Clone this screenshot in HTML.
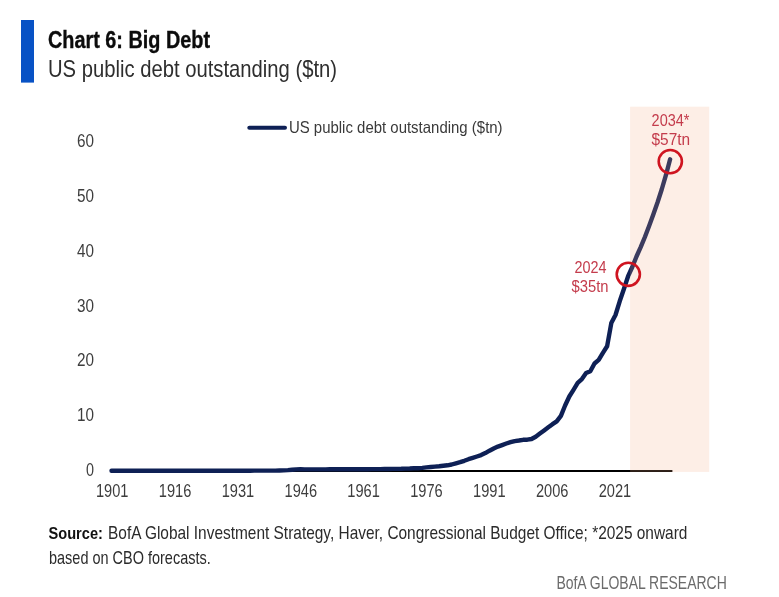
<!DOCTYPE html>
<html lang="en">
<head>
<meta charset="utf-8">
<title>Chart 6: Big Debt</title>
<style>
html,body{margin:0;padding:0;background:#fff;}
body{width:779px;height:597px;overflow:hidden;font-family:"Liberation Sans",sans-serif;}
svg{display:block;}
text{font-family:"Liberation Sans",sans-serif;}
</style>
</head>
<body>
<svg width="779" height="597" viewBox="0 0 779 597">
<rect x="0" y="0" width="779" height="597" fill="#ffffff"/>
<rect x="21" y="20" width="13" height="62.6" fill="#0852c5"/>
<text x="48" y="48" font-size="23.3" font-weight="bold" fill="#0c0c0c" stroke="#0c0c0c" stroke-width="0.35" textLength="162" lengthAdjust="spacingAndGlyphs">Chart 6: Big Debt</text>
<text x="48" y="76.9" font-size="24" fill="#2e2e2e" textLength="289" lengthAdjust="spacingAndGlyphs">US public debt outstanding ($tn)</text>

<g font-size="17.5" fill="#3d3d3d">
<text x="94" y="476.0" text-anchor="end" textLength="8" lengthAdjust="spacingAndGlyphs">0</text><text x="94" y="421.2" text-anchor="end" textLength="17" lengthAdjust="spacingAndGlyphs">10</text><text x="94" y="366.4" text-anchor="end" textLength="17" lengthAdjust="spacingAndGlyphs">20</text><text x="94" y="311.6" text-anchor="end" textLength="17" lengthAdjust="spacingAndGlyphs">30</text><text x="94" y="256.8" text-anchor="end" textLength="17" lengthAdjust="spacingAndGlyphs">40</text><text x="94" y="202.0" text-anchor="end" textLength="17" lengthAdjust="spacingAndGlyphs">50</text><text x="94" y="147.2" text-anchor="end" textLength="17" lengthAdjust="spacingAndGlyphs">60</text>
<text x="112.2" y="497" text-anchor="middle" textLength="32.5" lengthAdjust="spacingAndGlyphs">1901</text><text x="175.1" y="497" text-anchor="middle" textLength="32.5" lengthAdjust="spacingAndGlyphs">1916</text><text x="237.9" y="497" text-anchor="middle" textLength="32.5" lengthAdjust="spacingAndGlyphs">1931</text><text x="300.8" y="497" text-anchor="middle" textLength="32.5" lengthAdjust="spacingAndGlyphs">1946</text><text x="363.6" y="497" text-anchor="middle" textLength="32.5" lengthAdjust="spacingAndGlyphs">1961</text><text x="426.5" y="497" text-anchor="middle" textLength="32.5" lengthAdjust="spacingAndGlyphs">1976</text><text x="489.3" y="497" text-anchor="middle" textLength="32.5" lengthAdjust="spacingAndGlyphs">1991</text><text x="552.2" y="497" text-anchor="middle" textLength="32.5" lengthAdjust="spacingAndGlyphs">2006</text><text x="615.0" y="497" text-anchor="middle" textLength="32.5" lengthAdjust="spacingAndGlyphs">2021</text>
</g>

<line x1="110" y1="470.9" x2="672.4" y2="470.9" stroke="#000000" stroke-width="2"/>
<path d="M111.5,470.8 L115.7,470.8 L119.9,470.8 L124.1,470.8 L128.3,470.8 L132.5,470.8 L136.7,470.8 L140.9,470.8 L145.1,470.8 L149.3,470.8 L153.5,470.8 L157.7,470.8 L161.9,470.8 L166.1,470.8 L170.3,470.8 L174.5,470.8 L178.7,470.8 L182.9,470.7 L187.1,470.6 L191.3,470.7 L195.5,470.7 L199.7,470.7 L203.9,470.7 L208.1,470.7 L212.3,470.7 L216.5,470.7 L220.7,470.7 L224.9,470.7 L229.1,470.7 L233.3,470.7 L237.5,470.7 L241.7,470.7 L245.9,470.7 L250.1,470.7 L254.3,470.6 L258.5,470.6 L262.7,470.6 L266.9,470.6 L271.1,470.6 L275.3,470.6 L279.5,470.5 L283.7,470.4 L287.9,470.1 L292.1,469.7 L296.3,469.4 L300.5,469.3 L304.7,469.4 L308.9,469.4 L313.1,469.4 L317.3,469.4 L321.5,469.4 L325.7,469.4 L329.9,469.3 L334.1,469.3 L338.3,469.3 L342.5,469.3 L346.7,469.3 L350.9,469.3 L355.1,469.2 L359.3,469.2 L363.5,469.2 L367.7,469.2 L371.9,469.1 L376.1,469.1 L380.3,469.1 L384.5,469.0 L388.7,469.0 L392.9,468.9 L397.1,468.9 L401.3,468.8 L405.5,468.6 L409.7,468.5 L413.9,468.3 L418.1,468.2 L422.3,467.9 L426.5,467.4 L430.7,467.0 L434.9,466.6 L439.1,466.3 L443.3,465.8 L447.5,465.3 L451.7,464.5 L455.9,463.3 L460.1,462.2 L464.3,460.8 L468.5,459.2 L472.7,457.9 L476.9,456.5 L481.1,455.1 L485.3,453.1 L489.5,450.7 L493.7,448.5 L497.9,446.6 L502.1,445.1 L506.3,443.5 L510.5,442.2 L514.7,441.1 L518.9,440.5 L523.1,439.8 L527.3,439.7 L531.5,439.0 L535.7,436.7 L539.9,433.6 L544.1,430.4 L548.3,427.3 L552.5,424.2 L556.7,421.4 L560.9,415.9 L565.1,405.5 L569.3,396.5 L573.5,389.8 L577.7,382.8 L581.9,379.1 L586.1,373.1 L590.3,371.3 L594.5,363.5 L598.7,359.9 L602.9,352.9 L607.1,346.3 L611.3,323.1 L615.5,315.0 L619.7,301.3 L623.9,289.0 L628.1,276.2 L632.3,267.0 L636.5,256.5 L640.7,247.2 L644.9,237.0 L649.1,226.0 L653.3,214.5 L657.5,202.5 L661.7,189.5 L665.9,175.2 L670.1,159.3" fill="none" stroke="#0e2055" stroke-width="4.4" stroke-linecap="round" stroke-linejoin="round"/>
<rect x="630.1" y="106.7" width="79.1" height="365.2" fill="rgb(243,170,130)" fill-opacity="0.2"/>

<line x1="249.3" y1="127.7" x2="285" y2="127.7" stroke="#0e2055" stroke-width="4" stroke-linecap="round"/>
<text x="288.9" y="133.1" font-size="16.5" fill="#3a3a3a" textLength="213.7" lengthAdjust="spacingAndGlyphs">US public debt outstanding ($tn)</text>

<circle cx="670.3" cy="161.6" r="11.6" fill="none" stroke="#cf1420" stroke-width="2.6"/>
<circle cx="628.3" cy="274.3" r="11.6" fill="none" stroke="#cf1420" stroke-width="2.6"/>
<g font-size="16.2" fill="#c43c4c" text-anchor="middle">
<text x="670.5" y="125.9" textLength="37.8" lengthAdjust="spacingAndGlyphs">2034*</text>
<text x="670.8" y="144.8" textLength="38.6" lengthAdjust="spacingAndGlyphs">$57tn</text>
<text x="590.6" y="272.8" textLength="32" lengthAdjust="spacingAndGlyphs">2024</text>
<text x="590.1" y="291.6" textLength="37" lengthAdjust="spacingAndGlyphs">$35tn</text>
</g>

<text x="48.5" y="539.4" font-size="17.4" fill="#2b2b2b"><tspan font-weight="bold" fill="#111111" textLength="54.4" lengthAdjust="spacingAndGlyphs">Source:</tspan></text>
<text x="108" y="539.4" font-size="17.8" fill="#2b2b2b" textLength="579.4" lengthAdjust="spacingAndGlyphs">BofA Global Investment Strategy, Haver, Congressional Budget Office; *2025 onward</text>
<text x="49" y="563.8" font-size="17.8" fill="#2b2b2b" textLength="161.7" lengthAdjust="spacingAndGlyphs">based on CBO forecasts.</text>
<text x="556.4" y="588.8" font-size="17.5" fill="#6b6b6b" textLength="170.4" lengthAdjust="spacingAndGlyphs">BofA GLOBAL RESEARCH</text>
</svg>
</body>
</html>
